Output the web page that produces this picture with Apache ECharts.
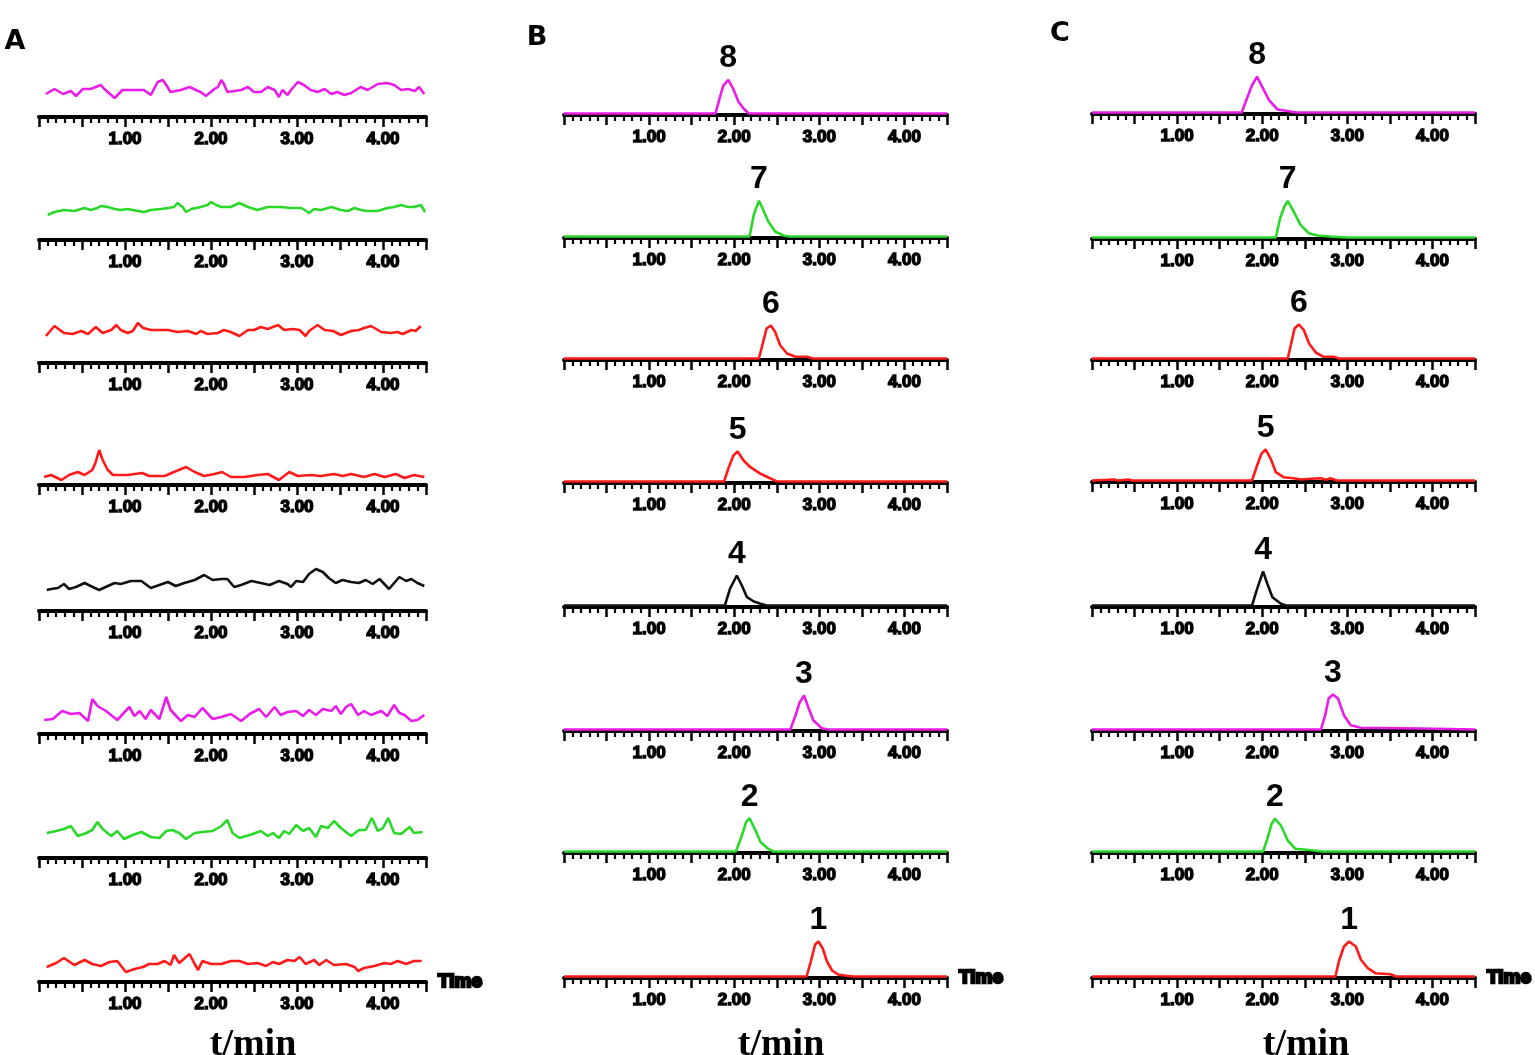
<!DOCTYPE html>
<html>
<head>
<meta charset="UTF-8">
<title>Chromatograms A B C</title>
<script src="https://cdn.jsdelivr.net/npm/echarts@6/dist/echarts.min.js"></script>
<style>
  html, body { margin: 0; padding: 0; background: #fff; }
  #chart { width: 1535px; height: 1055px; }
</style>
</head>
<body>
<div id="chart"></div>
<script>
// [t/min, signal]; rows top to bottom = compounds 8..1
// panel A (blank)
var traceA8 = [[0.08,23],[0.18,28],[0.28,23],[0.37,26],[0.43,21],[0.51,28],[0.60,28],[0.72,32],[0.76,28],[0.88,19],[0.97,27],[1.11,27],[1.22,27],[1.30,22],[1.38,35],[1.44,37],[1.48,32],[1.53,25],[1.65,27],[1.75,30],[1.85,26],[1.88,25],[1.94,21],[2.04,28],[2.08,30],[2.12,37],[2.15,33],[2.19,25],[2.27,26],[2.35,27],[2.43,30],[2.50,25],[2.58,25],[2.66,30],[2.74,27],[2.79,20],[2.83,27],[2.89,22],[2.93,27],[3.01,35],[3.08,32],[3.16,27],[3.24,25],[3.32,28],[3.40,23],[3.47,25],[3.55,22],[3.63,24],[3.74,30],[3.82,27],[3.94,33],[4.05,34],[4.13,32],[4.21,27],[4.29,28],[4.37,26],[4.42,30],[4.48,23]];
var traceA7 = [[0.10,25],[0.18,28],[0.29,30],[0.41,29],[0.53,32],[0.60,30],[0.68,32],[0.72,34],[0.80,33],[0.88,31],[0.95,30],[1.03,31],[1.15,29],[1.22,28],[1.30,30],[1.42,31],[1.50,32],[1.57,33],[1.61,37],[1.67,33],[1.71,28],[1.77,31],[1.88,33],[1.96,35],[2.00,38],[2.06,35],[2.12,33],[2.23,33],[2.33,37],[2.43,33],[2.54,30],[2.66,33],[2.81,33],[2.93,32],[3.05,32],[3.09,30],[3.14,27],[3.20,31],[3.28,30],[3.40,33],[3.51,30],[3.59,29],[3.67,32],[3.74,30],[3.82,29],[3.94,29],[4.05,32],[4.13,33],[4.21,35],[4.29,33],[4.36,33],[4.44,35],[4.49,28]];
var traceA6 = [[0.08,27],[0.18,37],[0.29,30],[0.39,29],[0.49,32],[0.57,29],[0.66,36],[0.74,30],[0.84,33],[0.90,38],[0.95,33],[1.03,30],[1.09,32],[1.15,40],[1.21,35],[1.30,33],[1.40,33],[1.50,33],[1.61,31],[1.73,32],[1.83,29],[1.88,32],[1.96,29],[2.08,30],[2.15,33],[2.23,31],[2.33,27],[2.43,33],[2.50,33],[2.58,36],[2.66,34],[2.78,38],[2.85,33],[2.95,34],[3.03,33],[3.10,27],[3.14,32],[3.24,38],[3.32,33],[3.42,32],[3.51,28],[3.63,32],[3.72,33],[3.78,35],[3.86,37],[3.98,31],[4.09,30],[4.17,31],[4.23,29],[4.33,33],[4.38,32],[4.44,37]];
var traceA5 = [[0.06,8],[0.14,10],[0.26,5],[0.35,10],[0.45,13],[0.53,10],[0.62,15],[0.66,23],[0.70,35],[0.74,25],[0.80,15],[0.86,10],[1.03,10],[1.20,12],[1.28,9],[1.46,9],[1.57,13],[1.71,18],[1.81,13],[1.92,9],[2.04,11],[2.13,13],[2.23,8],[2.39,8],[2.54,10],[2.66,11],[2.79,5],[2.91,13],[3.01,9],[3.16,10],[3.28,9],[3.43,11],[3.53,9],[3.63,11],[3.78,8],[3.90,11],[4.02,8],[4.15,11],[4.25,7],[4.36,10],[4.48,8]];
var traceA4 = [[0.09,21],[0.14,22],[0.22,23],[0.29,27],[0.35,22],[0.43,24],[0.53,28],[0.60,25],[0.70,21],[0.80,25],[0.88,28],[0.95,27],[1.07,30],[1.19,30],[1.30,23],[1.40,26],[1.50,29],[1.59,25],[1.69,28],[1.81,31],[1.92,36],[2.02,31],[2.12,32],[2.19,32],[2.27,24],[2.35,26],[2.47,30],[2.58,28],[2.68,26],[2.79,30],[2.89,27],[2.93,24],[2.99,30],[3.07,29],[3.14,37],[3.22,42],[3.30,39],[3.37,33],[3.45,28],[3.53,31],[3.63,29],[3.72,28],[3.80,31],[3.88,27],[3.96,32],[4.07,22],[4.13,28],[4.19,34],[4.27,30],[4.33,32],[4.40,28],[4.48,25]];
var traceA3 = [[0.06,14],[0.16,15],[0.27,23],[0.37,20],[0.47,21],[0.57,13],[0.62,35],[0.68,28],[0.78,23],[0.91,14],[1.05,27],[1.11,18],[1.17,23],[1.24,15],[1.30,24],[1.40,15],[1.48,37],[1.53,24],[1.65,13],[1.73,19],[1.81,17],[1.90,26],[2.02,15],[2.12,17],[2.23,20],[2.35,13],[2.45,20],[2.56,25],[2.64,17],[2.74,27],[2.81,19],[2.89,22],[2.99,23],[3.07,18],[3.14,24],[3.22,19],[3.30,25],[3.40,23],[3.45,28],[3.51,20],[3.57,27],[3.63,30],[3.71,19],[3.78,23],[3.86,19],[3.98,23],[4.05,18],[4.13,29],[4.19,21],[4.25,19],[4.33,13],[4.40,14],[4.48,19]];
var traceA2 = [[0.09,25],[0.20,27],[0.29,29],[0.37,32],[0.45,22],[0.55,25],[0.62,28],[0.68,36],[0.74,29],[0.84,22],[0.91,27],[0.99,19],[1.09,23],[1.19,26],[1.30,21],[1.40,20],[1.48,27],[1.55,28],[1.63,25],[1.71,19],[1.81,25],[1.90,26],[2.02,27],[2.12,32],[2.19,38],[2.25,25],[2.33,20],[2.45,23],[2.58,27],[2.66,22],[2.72,25],[2.79,20],[2.85,27],[2.91,24],[2.99,33],[3.07,27],[3.14,30],[3.22,21],[3.28,32],[3.36,30],[3.43,37],[3.51,30],[3.63,22],[3.72,28],[3.80,28],[3.87,40],[3.94,27],[4.00,30],[4.06,40],[4.13,25],[4.21,24],[4.31,31],[4.36,25],[4.46,26]];
var traceA1 = [[0.09,15],[0.20,19],[0.29,24],[0.41,17],[0.53,22],[0.62,18],[0.72,16],[0.82,20],[0.91,21],[1.01,10],[1.11,13],[1.21,15],[1.28,18],[1.38,18],[1.46,21],[1.53,17],[1.57,27],[1.63,19],[1.75,28],[1.81,18],[1.85,12],[1.90,21],[2.00,18],[2.12,18],[2.23,21],[2.33,21],[2.43,18],[2.54,19],[2.64,16],[2.72,20],[2.79,18],[2.89,22],[2.97,21],[3.03,25],[3.10,18],[3.20,22],[3.26,17],[3.34,22],[3.43,17],[3.57,18],[3.67,15],[3.71,11],[3.78,14],[3.90,16],[4.02,19],[4.09,18],[4.17,21],[4.27,18],[4.36,21],[4.45,21]];

// panel B
var traceB8 = [[0,0],[1.78,0],[1.82,12.7],[1.87,27.7],[1.93,33.7],[1.99,24.3],[2.05,11.7],[2.11,5],[2.17,0],[4.5,0]];
var traceB7 = [[0,0],[2.18,0],[2.23,21.7],[2.29,35.7],[2.34,26.7],[2.40,15],[2.48,5],[2.58,1],[2.65,0],[4.5,0]];
var traceB6 = [[0,0],[2.29,0],[2.33,13.3],[2.38,30],[2.43,33],[2.48,26.7],[2.54,13.3],[2.62,5],[2.72,1.7],[2.86,1.7],[2.92,0],[4.5,0]];
var traceB5 = [[0,0],[1.88,0],[1.93,12.7],[1.99,26],[2.04,30],[2.11,21],[2.19,14.3],[2.31,7.7],[2.42,3.3],[2.50,0],[4.5,0]];
var traceB4 = [[0,0],[1.89,0],[1.95,16.7],[2.03,30],[2.09,20],[2.15,8.3],[2.23,4],[2.31,1.7],[2.38,0],[4.5,0]];
var traceB3 = [[0,0],[2.66,0],[2.72,14],[2.77,27.3],[2.82,34],[2.87,22.3],[2.93,9],[3.03,1.3],[3.10,0],[4.5,0]];
var traceB2 = [[0,0],[2.02,0],[2.09,16],[2.14,29.3],[2.18,33.3],[2.25,21],[2.31,9.3],[2.40,2.7],[2.46,0],[4.5,0]];
var traceB1 = [[0,0],[2.85,0],[2.90,15],[2.95,32],[2.99,35],[3.04,28],[3.09,15],[3.15,6],[3.22,2],[3.30,1],[3.40,0],[4.5,0]];

// panel C
var traceC8 = [[0,0],[1.76,0],[1.82,14],[1.88,27.3],[1.94,35.7],[2.00,25.7],[2.08,12.3],[2.18,3],[2.31,1.3],[2.40,0],[4.5,0]];
var traceC7 = [[0,0],[2.16,0],[2.21,19.3],[2.26,31],[2.30,36.7],[2.37,26],[2.45,12.7],[2.55,4],[2.65,2],[2.80,1],[3.0,0],[4.5,0]];
var traceC6 = [[0,0],[2.30,0],[2.34,15],[2.38,30],[2.43,34],[2.49,28.3],[2.55,15],[2.63,6],[2.72,1.7],[2.84,1.7],[2.90,0],[4.5,0]];
var traceC5 = [[0,0],[0.26,1],[0.30,0],[0.43,1],[0.47,0],[1.88,0],[1.94,15],[1.99,26.7],[2.04,31],[2.10,21.7],[2.16,8.3],[2.25,3.3],[2.37,2.3],[2.45,1],[2.57,1.7],[2.69,2.3],[2.75,0.7],[2.80,2.3],[2.88,0],[4.5,0]];
var traceC4 = [[0,0],[1.88,0],[1.94,16.7],[2.01,34],[2.06,21.7],[2.12,8.3],[2.22,1.7],[2.28,0],[4.5,0]];
var traceC3 = [[0,0],[2.69,0],[2.74,14.3],[2.78,31],[2.83,35],[2.89,31],[2.96,14.3],[3.04,4.3],[3.16,1.7],[3.86,1],[4.5,0]];
var traceC2 = [[0,0],[2.01,0],[2.06,12.7],[2.11,27.7],[2.15,32.7],[2.22,26],[2.30,11],[2.39,2.7],[2.61,1],[2.70,0],[4.5,0]];
var traceC1 = [[0,0],[2.86,0],[2.90,15],[2.96,30],[3.02,35],[3.10,30],[3.16,16.7],[3.24,8.3],[3.33,3.3],[3.51,2.3],[3.57,0],[4.5,0]];

var panelNames = ['A', 'B', 'C'];
var peakLabels = ['8', '7', '6', '5', '4', '3', '2', '1'];
var tickLabels = ['1.00', '2.00', '3.00', '4.00'];
var axisName = 'Time';
var unitLabel = 't/min';

var panels = [
  [traceA8, traceA7, traceA6, traceA5, traceA4, traceA3, traceA2, traceA1],
  [traceB8, traceB7, traceB6, traceB5, traceB4, traceB3, traceB2, traceB1],
  [traceC8, traceC7, traceC6, traceC5, traceC4, traceC3, traceC2, traceC1]
];

// layout
var rowColors = ['#e81ee8', '#2ad82a', '#ff1a1a', '#ff1a1a', '#111111', '#e81ee8', '#2ad82a', '#ff1a1a'];
var colLeft = [39, 564, 1092];
var colWidth = [387, 383, 383];
var axisY = [
  [117, 240, 363, 485, 611, 734, 858, 982],
  [115, 238, 360, 483, 607, 731, 853, 978],
  [114, 239, 360, 482, 607, 731, 853, 978]
];
var letterPos = [[15, 42], [537, 38], [1060, 34]];
var unitX = [253, 781, 1306];
var H = 50;

var grids = [], xAxes = [], yAxes = [], series = [];
for (var c = 0; c < 3; c++) {
  for (var r = 0; r < 8; r++) {
    var i = grids.length;
    grids.push({ left: colLeft[c], width: colWidth[c], top: axisY[c][r] - H, height: H });
    xAxes.push({
      gridIndex: i, type: 'value', min: 0, max: 4.5, interval: 0.5,
      axisLine: { onZero: false, lineStyle: { color: '#000', width: 4 } },
      axisTick: { length: 10, lineStyle: { color: '#000', width: 2.5 } },
      minorTick: { show: true, splitNumber: 5, length: 6, lineStyle: { color: '#000', width: 2.2 } },
      splitLine: { show: false },
      minorSplitLine: { show: false },
      axisLabel: {
        margin: 14, color: '#000', fontSize: 17, fontWeight: 'bold',
        fontFamily: 'Liberation Sans, Arial, sans-serif',
        textBorderColor: '#000', textBorderWidth: 1.4,
        formatter: function (v) {
          return (v > 0 && v % 1 === 0 && v <= tickLabels.length) ? tickLabels[v - 1] : '';
        }
      },
      name: r === 7 ? axisName : '',
      nameLocation: 'end', nameGap: 12,
      nameTextStyle: {
        color: '#000', fontSize: 19, fontWeight: 'bold', fontFamily: 'Liberation Sans, Arial, sans-serif',
        textBorderColor: '#000', textBorderWidth: 2.5, verticalAlign: 'middle'
      }
    });
    // baseline of B/C sits just on top of the axis line
    yAxes.push({ gridIndex: i, type: 'value', min: c > 0 ? -1.5 : 0, max: c > 0 ? H - 1.5 : H, show: false });
    var s = {
      type: 'line', xAxisIndex: i, yAxisIndex: i,
      data: panels[c][r], symbol: 'none',
      lineStyle: { color: rowColors[r], width: 2.6 },
      itemStyle: { color: rowColors[r] }
    };
    if (c > 0) {
      s.markPoint = {
        symbol: 'circle', symbolSize: 1,
        itemStyle: { color: 'rgba(0,0,0,0)' },
        label: {
          show: true, position: 'top', distance: 5,
          formatter: peakLabels[r],
          color: '#000', fontSize: 32, fontWeight: 'bold',
          fontFamily: 'Liberation Sans, Arial, sans-serif'
        },
        data: [{ type: 'max', valueDim: 'y' }]
      };
    }
    series.push(s);
  }
}

var graphics = [];
for (var k = 0; k < 3; k++) {
  graphics.push({
    type: 'text', x: letterPos[k][0], y: letterPos[k][1],
    style: { text: panelNames[k], fill: '#000', font: 'bold 27px DejaVu Sans', align: 'center', verticalAlign: 'middle' }
  });
  graphics.push({
    type: 'text', x: unitX[k], y: 1064,
    style: { text: unitLabel, fill: '#000', font: 'bold 38px Liberation Serif', align: 'center', verticalAlign: 'bottom' }
  });
}

var chart = echarts.init(document.getElementById('chart'));
chart.setOption({
  animation: false,
  backgroundColor: '#fff',
  grid: grids,
  xAxis: xAxes,
  yAxis: yAxes,
  series: series,
  graphic: graphics
});
</script>
</body>
</html>
